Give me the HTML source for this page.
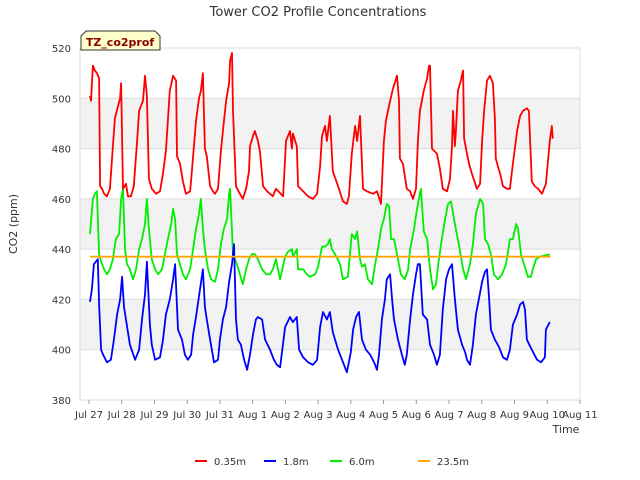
<!DOCTYPE html>
<html><head><meta charset="utf-8"><style>
body{margin:0;background:#fff;font-family:"DejaVu Sans","Liberation Sans",sans-serif;}
svg{display:block}
</style></head><body>
<svg id="chart" width="640" height="480">
<text x="318" y="16" text-anchor="middle" font-size="13" fill="#333">Tower CO2 Profile Concentrations</text>
<text transform="translate(17,224) rotate(-90)" text-anchor="middle" font-size="11" fill="#333">CO2 (ppm)</text>
<text x="566" y="433" text-anchor="middle" font-size="11" fill="#333">Time</text>
<g id="bands"></g><g id="grid"></g><g id="ticks"></g><g id="series"></g>
<g>
<path d="M81,50 L81,36 L86,31 L155,31 L160,36 L160,50 Z" fill="#ffffcc" stroke="#333" stroke-width="1"/>
<text x="120" y="46" text-anchor="middle" font-size="11" font-weight="bold" fill="#8b0000">TZ_co2prof</text>
</g>
<g id="legend"></g>
</svg>
<script>
const yTicks=[380,400,420,440,460,480,500,520];
const xTickLabels=["Jul 27","Jul 28","Jul 29","Jul 30","Jul 31","Aug 1","Aug 2","Aug 3","Aug 4","Aug 5","Aug 6","Aug 7","Aug 8","Aug 9","Aug 10","Aug 11"];
const seriesNames=["0.35m","1.8m","6.0m","23.5m"];
const seriesColors=["#ff0000","#0000ff","#00ee00","#ffa500"];
const redT=[.03,.06,.12,.18,.24,.31,.34,.40,.46,.55,.64,.73,.79,.89,.95,.98,1.04,1.13,1.19,1.28,1.37,1.47,1.53,1.65,1.71,1.77,1.83,1.92,2.05,2.17,2.26,2.35,2.47,2.57,2.66,2.69,2.78,2.87,2.96,3.09,3.15,3.27,3.36,3.42,3.48,3.54,3.60,3.70,3.79,3.85,3.94,4.03,4.09,4.19,4.28,4.31,4.37,4.40,4.49,4.61,4.70,4.80,4.89,4.92,5.01,5.07,5.16,5.22,5.32,5.44,5.53,5.62,5.71,5.93,6.02,6.14,6.20,6.23,6.35,6.39,6.54,6.69,6.84,6.97,7.06,7.12,7.21,7.27,7.36,7.45,7.61,7.76,7.88,7.94,8.03,8.13,8.19,8.28,8.37,8.49,8.68,8.80,8.92,9.01,9.07,9.20,9.29,9.41,9.47,9.50,9.59,9.71,9.81,9.90,9.99,10.05,10.11,10.23,10.33,10.39,10.42,10.48,10.63,10.72,10.81,10.94,11.03,11.09,11.12,11.18,11.21,11.27,11.36,11.43,11.46,11.52,11.61,11.70,11.85,11.95,12.01,12.07,12.16,12.25,12.34,12.40,12.43,12.56,12.65,12.77,12.86,12.95,13.08,13.17,13.26,13.38,13.44,13.53,13.62,13.72,13.84,13.96,14.08,14.14,14.17];
const redV=[501,499,513,511,510,508,465,464,462,461,464,481,492,497,500,506,464,466,461,461,465,483,495,499,509,501,468,464,462,463,470,479,503,509,507,477,474,467,462,463,472,491,500,503,510,480,477,465,463,462,464,479,487,499,506,515,518,495,465,462,460,464,471,481,485,487,483,479,465,463,462,461,464,461,483,487,480,486,481,465,463,461,460,462,473,485,489,483,493,471,465,459,458,461,478,489,483,493,464,463,462,463,458,483,491,499,504,509,499,476,474,464,463,460,464,483,495,503,508,513,513,480,478,472,464,463,468,481,495,481,487,503,507,511,484,480,474,470,464,466,483,495,507,509,506,492,476,470,465,464,464,474,487,493,495,496,495,467,465,464,462,466,483,489,484];
const blueT=[.03,.09,.15,.21,.27,.31,.37,.43,.55,.67,.76,.86,.95,1.01,1.07,1.25,1.41,1.53,1.62,1.71,1.77,1.86,1.92,2.02,2.17,2.26,2.35,2.47,2.57,2.63,2.72,2.84,2.93,3.02,3.12,3.18,3.27,3.39,3.48,3.54,3.60,3.70,3.82,3.94,4.00,4.09,4.19,4.28,4.37,4.43,4.49,4.55,4.64,4.74,4.83,4.92,5.01,5.10,5.16,5.29,5.38,5.53,5.65,5.74,5.84,5.99,6.14,6.23,6.35,6.42,6.54,6.69,6.84,6.97,7.06,7.15,7.27,7.36,7.45,7.61,7.76,7.88,8.00,8.07,8.16,8.25,8.34,8.46,8.59,8.71,8.80,8.86,8.95,9.04,9.10,9.20,9.26,9.32,9.44,9.56,9.65,9.71,9.81,9.90,9.99,10.05,10.11,10.20,10.33,10.42,10.54,10.63,10.72,10.81,10.91,11.00,11.09,11.18,11.27,11.40,11.49,11.55,11.64,11.73,11.82,11.91,12.01,12.10,12.16,12.22,12.28,12.40,12.53,12.65,12.77,12.86,12.95,13.08,13.17,13.26,13.32,13.38,13.53,13.69,13.81,13.93,13.96,14.08];
const blueV=[419,424,434,435,436,418,400,398,395,396,404,414,420,429,417,402,396,400,412,422,435,410,402,396,397,404,414,420,428,434,408,404,398,396,398,406,413,424,432,417,412,404,395,396,404,412,417,427,434,442,412,404,402,396,392,398,406,412,413,412,404,400,396,394,393,409,413,411,413,400,397,395,394,396,409,415,412,415,407,400,395,391,399,408,413,415,404,400,398,395,392,398,412,420,428,430,420,412,404,398,394,398,412,422,430,434,434,414,412,402,398,394,398,416,428,432,434,420,408,402,399,396,394,402,414,420,427,431,432,421,408,404,401,397,396,400,410,414,418,419,416,404,400,396,395,397,408,411];
const greenT=[.03,.12,.18,.24,.31,.37,.46,.55,.64,.73,.82,.92,.98,1.04,1.10,1.16,1.25,1.34,1.44,1.53,1.62,1.71,1.77,1.83,1.92,2.02,2.11,2.23,2.32,2.41,2.51,2.57,2.63,2.69,2.78,2.87,2.96,3.09,3.18,3.27,3.36,3.42,3.48,3.54,3.64,3.73,3.85,3.94,4.03,4.12,4.22,4.28,4.31,4.40,4.52,4.61,4.70,4.80,4.89,4.98,5.07,5.16,5.29,5.41,5.53,5.62,5.71,5.84,5.99,6.08,6.20,6.23,6.35,6.39,6.54,6.66,6.75,6.91,7.00,7.12,7.21,7.30,7.36,7.42,7.52,7.67,7.76,7.91,8.03,8.13,8.19,8.28,8.34,8.43,8.52,8.65,8.74,8.83,8.92,9.01,9.10,9.17,9.23,9.32,9.41,9.53,9.65,9.75,9.81,9.93,10.02,10.11,10.14,10.23,10.33,10.42,10.51,10.60,10.69,10.78,10.88,10.97,11.06,11.18,11.30,11.43,11.52,11.64,11.73,11.82,11.95,12.04,12.10,12.19,12.28,12.37,12.50,12.62,12.74,12.86,12.95,13.05,13.11,13.20,13.29,13.41,13.50,13.56,13.66,13.78,14.08];
const greenV=[446,460,462,463,438,435,432,430,432,436,444,446,460,464,440,434,432,428,432,440,444,450,460,448,436,432,430,432,438,444,450,456,452,438,434,430,428,432,440,448,454,460,448,440,432,428,427,432,442,448,452,462,464,438,434,430,426,432,436,438,438,436,432,430,430,432,436,428,437,439,440,437,440,432,432,430,429,430,433,441,441,442,444,440,438,434,428,429,446,444,447,436,433,434,428,426,434,440,448,452,458,457,444,444,438,430,428,432,440,448,456,462,464,447,444,432,424,426,436,444,452,458,459,450,442,432,428,434,442,454,460,458,444,442,438,430,428,430,434,444,444,450,448,438,434,429,429,432,436,437,438];
const orangeT=[.03,14.1];
const orangeV=[437,437];

const L=80,R=580,T=48,B=400,X0=89,DAY=32.73;
const xs=d=>X0+d*DAY;
const ys=v=>B-(v-380)*(B-T)/140;
const NS="http://www.w3.org/2000/svg";
function mk(tag,attrs,parent){const e=document.createElementNS(NS,tag);for(const k in attrs)e.setAttribute(k,attrs[k]);parent.appendChild(e);return e;}
const bands=document.getElementById('bands'),grid=document.getElementById('grid'),ticks=document.getElementById('ticks'),ser=document.getElementById('series'),leg=document.getElementById('legend');
for(let i=0;i<yTicks.length-1;i++){
  if(i%2===1){const r=mk('rect',{x:L,y:ys(yTicks[i+1]),width:R-L,height:ys(yTicks[i])-ys(yTicks[i+1]),fill:'#f2f2f2'},bands);
  
  }
}
yTicks.forEach(v=>{
  const g=mk('line',{x1:L,x2:R,y1:ys(v),y2:ys(v),stroke:'#dddddd','stroke-width':1},grid);
  
  
  const t=mk('text',{x:L-9,y:ys(v)+4,'text-anchor':'end','font-size':10,fill:'#333'},ticks);t.textContent=v;
  
  
});
mk('line',{x1:L,x2:L,y1:T,y2:B,stroke:'#ddd'},grid);
mk('line',{x1:R,x2:R,y1:T,y2:B,stroke:'#ddd'},grid);
xTickLabels.forEach((s,i)=>{
  const x=xs(i);
  mk('line',{x1:x,x2:x,y1:B,y2:B+4,stroke:'#999'},ticks);
  const t=mk('text',{x:x,y:B+18,'text-anchor':'middle','font-size':10,fill:'#333'},ticks);t.textContent=s;
  
  
});
const all=[[redT,redV],[blueT,blueV],[greenT,greenV],[orangeT,orangeV]];
[2,1,0,3].forEach(i=>{
  const [t,v]=all[i];
  const p=mk('polyline',{points:t.map((d,j)=>xs(d).toFixed(1)+','+ys(v[j]).toFixed(1)).join(' '),fill:'none',stroke:seriesColors[i],'stroke-width':1.8,'stroke-linejoin':'round'},ser);
  
  
});
const legX=[195,264,330,418];
seriesNames.forEach((n,i)=>{
  const g=mk('g',{},leg);
  
  
  mk('line',{x1:legX[i],x2:legX[i]+12,y1:461,y2:461,stroke:seriesColors[i],'stroke-width':2},g);
  const t=mk('text',{x:legX[i]+19,y:465,'font-size':10,fill:'#333'},g);t.textContent=n;
});
</script>
</body></html>
